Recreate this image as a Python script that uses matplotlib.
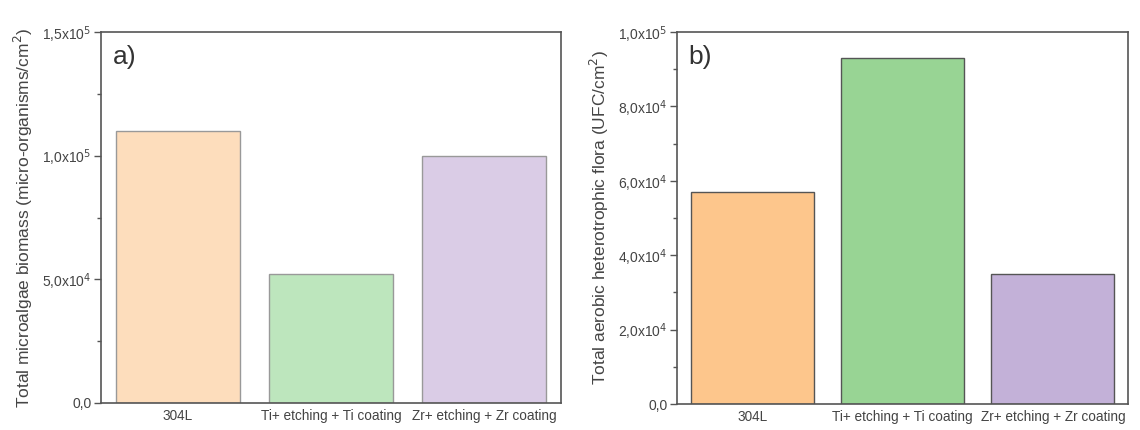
import matplotlib.pyplot as plt
from matplotlib.ticker import FixedLocator, MultipleLocator

plt.rcParams['font.family'] = ['Liberation Sans', 'DejaVu Sans']

categories = ['304L', 'Ti+ etching + Ti coating', 'Zr+ etching + Zr coating']

# a) total microalgae biomass
biomass = [1.1e5, 5.2e4, 1.0e5]
biomass_ticks = [0, 5e4, 1e5, 1.5e5]
biomass_ticklabels = ['0,0', '5,0x10$^4$', '1,0x10$^5$', '1,5x10$^5$']
colors_a = ['#FDDDBC', '#BDE6BD', '#DACCE6']

# b) total aerobic heterotrophic flora
flora = [5.7e4, 9.3e4, 3.5e4]
flora_ticks = [0, 2e4, 4e4, 6e4, 8e4, 1e5]
flora_ticklabels = ['0,0', '2,0x10$^4$', '4,0x10$^4$', '6,0x10$^4$',
                    '8,0x10$^4$', '1,0x10$^5$']
colors_b = ['#FDC68C', '#98D494', '#C3B1D8']

fig = plt.figure(figsize=(11.4, 4.3), dpi=100)
ax1 = fig.add_axes([101/1140, 1 - 403/430, 460/1140, 371/430])
ax2 = fig.add_axes([677/1140, 1 - 404/430, 451/1140, 372/430])

x = [1, 2, 3]
spine_col = '#555555'
txt_col = '#444444'


def style(ax, ticks, labels, top, minor, ylabel, tag):
    ax.set_xlim(0.5, 3.5)
    ax.set_ylim(0, top)
    ax.yaxis.set_major_locator(FixedLocator(ticks))
    ax.set_yticklabels(labels)
    ax.yaxis.set_minor_locator(MultipleLocator(minor))
    ax.set_xticks(x)
    ax.set_xticklabels(categories)
    for s in ax.spines.values():
        s.set_color(spine_col)
        s.set_linewidth(1.2)
    ax.tick_params(axis='y', which='major', length=5, width=1, color=spine_col,
                   labelsize=10, labelcolor=txt_col, pad=2)
    ax.tick_params(axis='y', which='minor', length=3, width=1, color=spine_col)
    ax.tick_params(axis='x', length=0, labelsize=9.8, labelcolor=txt_col, pad=4)
    ax.set_ylabel(ylabel, fontsize=12.5, color=txt_col, labelpad=5)
    ax.text(0.025, 0.965, tag, transform=ax.transAxes, fontsize=19,
            va='top', ha='left', color='#333333')


ax1.bar(x, biomass, width=0.81, color=colors_a, edgecolor='#999999', linewidth=1)
style(ax1, biomass_ticks, biomass_ticklabels, 1.5e5, 2.5e4,
      'Total microalgae biomass (micro-organisms/cm$^2$)', 'a)')

ax2.bar(x, flora, width=0.82, color=colors_b, edgecolor='#555555', linewidth=1)
style(ax2, flora_ticks, flora_ticklabels, 1.0e5, 1e4,
      'Total aerobic heterotrophic flora (UFC/cm$^2$)', 'b)')

fig.savefig('out.png', dpi=100)
